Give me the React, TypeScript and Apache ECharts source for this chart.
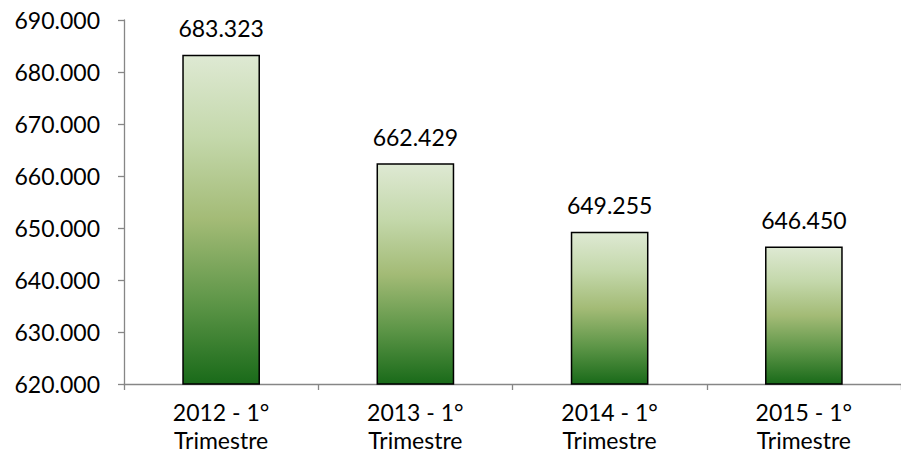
import React, { useEffect, useRef } from "react";
import * as echarts from "echarts";

const categories = ["2012 - 1°\nTrimestre", "2013 - 1°\nTrimestre", "2014 - 1°\nTrimestre", "2015 - 1°\nTrimestre"];
const values = [683.323, 662.429, 649.255, 646.45];
const yMin = 620;
const yMax = 690;
const yInterval = 10;

const fmt = (v: number) => v.toFixed(3);

export default function App() {
  const ref = useRef<HTMLDivElement>(null);
  useEffect(() => {
    if (!ref.current) return;
    const chart = echarts.init(ref.current, undefined, { renderer: "svg" });
    const font = "Lato, 'Open Sans', sans-serif";
    const axisColor = "#868686";
    chart.setOption({
      animation: false,
      backgroundColor: "#ffffff",
      grid: { left: 124, top: 20, width: 780, height: 364, containLabel: false },
      xAxis: {
        type: "category",
        data: categories,
        boundaryGap: true,
        axisLine: { lineStyle: { color: axisColor, width: 1.3 } },
        axisTick: { show: true, length: 6, lineStyle: { color: axisColor, width: 1.3 } },
        axisLabel: {
          color: "#000",
          fontFamily: font,
          fontSize: 23,
          lineHeight: 28,
          margin: 14,
          interval: 0,
        },
      },
      yAxis: {
        type: "value",
        min: yMin,
        max: yMax,
        interval: yInterval,
        splitLine: { show: false },
        axisLine: { show: true, lineStyle: { color: axisColor, width: 1.3 } },
        axisTick: { show: true, length: 6, lineStyle: { color: axisColor, width: 1.3 } },
        axisLabel: {
          color: "#000",
          fontFamily: font,
          fontSize: 23,
          margin: 24,
          formatter: (v: number) => fmt(v),
        },
      },
      series: [
        {
          type: "bar",
          data: values,
          barWidth: "40%",
          itemStyle: {
            borderColor: "#000",
            borderWidth: 1.5,
            color: new echarts.graphic.LinearGradient(0, 0, 0, 1, [
              { offset: 0, color: "#dee9d3" },
              { offset: 0.25, color: "#c4d8ab" },
              { offset: 0.5, color: "#a3bb76" },
              { offset: 0.75, color: "#5e9648" },
              { offset: 1, color: "#196a19" },
            ]),
          },
          label: {
            show: true,
            position: "top",
            distance: 15,
            color: "#000",
            fontFamily: font,
            fontSize: 23,
            formatter: (p: any) => fmt(p.value),
          },
        },
      ],
    });
    return () => chart.dispose();
  }, []);
  return (
    <div
      ref={ref}
      style={{ position: "absolute", left: 0, top: 0, width: 901, height: 463 }}
    />
  );
}
